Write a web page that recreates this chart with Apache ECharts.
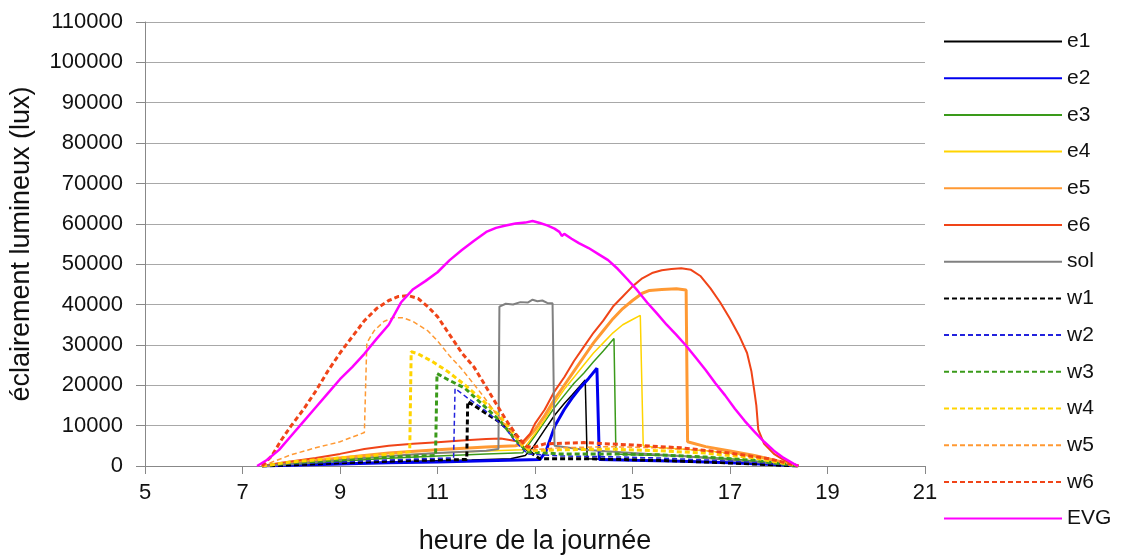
<!DOCTYPE html>
<html><head><meta charset="utf-8">
<script src="https://cdn.jsdelivr.net/npm/echarts@6/dist/echarts.min.js"></script>
<style>html,body{margin:0;padding:0;background:#fff}#c{width:1125px;height:560px}</style>
</head><body><div id="c"></div>
<script>
const xTicks = [5, 7, 9, 11, 13, 15, 17, 19, 21];
const seriesNames = ['e1','e2','e3','e4','e5','e6','sol','w1','w2','w3','w4','w5','w6','EVG'];

const e1 = [[7.4,0],[8,300],[9,700],[10,1000],[11,1300],[11.7,1500],[12.5,1800],[12.8,2600],[12.95,4500],[13.2,9000],[13.41,12700],[13.6,15500],[13.76,17600],[13.9,19500],[14.03,21300],[14.07,1800],[15,1500],[16,1200],[17,800],[18,300],[18.4,0]];
const e2 = [[7.4,0],[8,200],[9,500],[10,800],[11,1000],[12,1300],[13.1,1600],[13.22,3500],[13.41,10000],[13.6,14000],[13.76,16800],[13.9,19000],[14.1,21700],[14.27,24200],[14.32,1600],[15,1400],[16,1200],[17,800],[18,300],[18.4,0]];
const e3 = [[7.4,0],[8,400],[9,1200],[10,1900],[11,2500],[12,3000],[12.75,3300],[13.0,7500],[13.2,11000],[13.4,14500],[13.6,17500],[13.8,20500],[14.0,23000],[14.2,25800],[14.4,28500],[14.62,31600],[14.66,3000],[15,2800],[16,2500],[17,1800],[18,700],[18.4,0]];
const e4 = [[7.4,0],[8,500],[9,1500],[10,2500],[11,3200],[12,3700],[12.75,4000],[13.0,8000],[13.2,11500],[13.4,15500],[13.6,19000],[13.8,22000],[14.0,25000],[14.2,28000],[14.4,30500],[14.6,33000],[14.8,35000],[15.0,36300],[15.16,37300],[15.22,5000],[15.5,4600],[16,4200],[16.5,3800],[17,3200],[17.5,2300],[18,1000],[18.4,0]];
const e5 = [[7.4,0],[8,700],[9,2000],[10,3200],[11,4000],[12,4700],[12.6,5000],[12.75,5500],[13.0,9000],[13.2,12500],[13.4,16500],[13.6,20000],[13.8,23500],[14.0,27000],[14.2,30500],[14.4,33500],[14.6,36500],[14.8,39000],[15.0,41000],[15.2,42800],[15.35,43500],[15.6,43700],[15.9,43900],[16.1,43600],[16.13,6000],[16.5,4800],[17.0,3700],[17.5,2600],[18.0,1200],[18.4,0]];
const e6 = [[7.4,0],[7.8,800],[8.5,2000],[9.0,3000],[9.5,4200],[10.0,5000],[10.5,5500],[11.0,5900],[11.5,6300],[12.0,6700],[12.3,6800],[12.6,6200],[12.75,6000],[12.9,8000],[13.0,10500],[13.2,14000],[13.4,18500],[13.6,22000],[13.8,26000],[14.0,29500],[14.2,33000],[14.4,36000],[14.6,39500],[14.8,42000],[15.0,44500],[15.2,46500],[15.4,47800],[15.6,48500],[15.8,48800],[16.0,49000],[16.2,48600],[16.4,47000],[16.6,44000],[16.8,40500],[17.0,36500],[17.2,32000],[17.35,28000],[17.44,23400],[17.5,18500],[17.54,15000],[17.58,9000],[17.7,5500],[17.9,3000],[18.1,1500],[18.4,0]];
const sol = [[7.4,0],[8,500],[9,1500],[10,2500],[11,3200],[12,3800],[12.25,4200],[12.27,39500],[12.4,40200],[12.55,40000],[12.7,40600],[12.85,40500],[12.95,41200],[13.05,40800],[13.15,41000],[13.25,40400],[13.36,40300],[13.4,5000],[14,4000],[15,3200],[16,2500],[17,1500],[18,500],[18.4,0]];
const w1 = [[7.4,0],[8,300],[9,800],[10,1200],[11,1500],[11.6,1600],[11.62,16000],[11.9,13800],[12.26,11000],[12.59,7700],[12.8,4500],[12.95,3000],[13.1,1800],[14.0,1800],[14.5,1700],[15.5,1400],[16.5,1000],[17.5,500],[18.4,0]];
const w2 = [[7.4,0],[8,500],[9,1000],[10,1500],[11,1900],[11.33,2000],[11.36,19200],[11.6,17000],[11.92,14300],[12.2,11500],[12.39,9400],[12.6,6000],[12.85,3000],[13.5,2500],[14.5,2300],[15.5,2000],[16.5,1500],[17.5,900],[18.4,0]];
const w3 = [[7.4,0],[8,800],[9,1500],[10,2200],[10.96,2600],[10.99,22900],[11.2,21500],[11.57,19200],[11.9,15500],[12.3,11000],[12.6,6500],[12.85,3500],[13.5,3000],[14.5,3000],[15.5,2800],[16.5,2200],[17.5,1400],[18.4,0]];
const w4 = [[7.4,0],[8,1000],[9,2000],[10,2900],[10.43,3500],[10.46,28300],[10.6,27800],[10.89,25900],[11.2,23500],[11.57,20000],[11.9,16500],[12.26,12600],[12.5,9000],[12.75,5000],[12.9,3800],[13.5,4000],[14.5,4200],[15.5,3800],[16.5,3200],[17.5,2000],[18.4,0]];
const w5 = [[7.4,0],[8.0,2800],[8.5,4500],[9.0,6000],[9.5,8300],[9.55,30500],[9.7,33500],[9.9,35800],[10.1,36800],[10.3,36700],[10.5,35800],[10.8,33500],[11.0,31000],[11.24,27400],[11.5,24000],[11.92,17600],[12.2,13000],[12.5,8500],[12.75,5000],[12.9,4000],[13.5,4500],[14.5,4800],[15.5,4500],[16.5,3800],[17.5,2400],[18.4,0]];
const w6 = [[7.4,0],[7.6,2500],[7.8,6500],[8.0,10000],[8.25,14000],[8.5,18500],[8.75,23500],[9.0,28000],[9.25,32000],[9.5,36000],[9.75,39000],[10.0,41000],[10.2,42000],[10.4,42200],[10.6,41500],[10.8,39500],[11.0,37000],[11.25,32500],[11.5,28000],[11.75,24500],[12.0,19500],[12.2,15500],[12.4,11500],[12.6,8000],[12.8,5000],[12.95,4500],[13.2,5500],[14,5800],[15,5200],[16,4500],[17,3200],[17.8,1800],[18.4,0]];
const EVG = [[7.3,0],[7.5,1500],[7.75,4000],[8.0,7500],[8.25,11000],[8.5,14500],[8.75,18000],[9.0,21500],[9.25,24500],[9.5,27800],[9.75,31500],[10.0,35000],[10.25,40500],[10.5,43800],[10.75,45800],[11.0,48000],[11.25,51000],[11.5,53500],[11.75,55800],[12.0,58000],[12.2,59000],[12.4,59600],[12.6,60100],[12.8,60300],[12.95,60700],[13.1,60200],[13.25,59600],[13.4,58800],[13.5,58000],[13.55,57000],[13.6,57500],[13.75,56300],[13.9,55200],[14.1,54000],[14.3,52500],[14.5,51000],[14.7,48800],[14.9,46200],[15.1,43500],[15.3,40500],[15.5,37800],[15.7,35000],[15.9,32500],[16.1,29800],[16.3,26800],[16.5,23800],[16.7,20500],[16.9,17500],[17.1,14200],[17.3,11200],[17.5,8500],[17.7,6000],[17.9,3800],[18.1,2000],[18.3,600],[18.4,0]];

const dataMap = {e1,e2,e3,e4,e5,e6,sol,w1,w2,w3,w4,w5,w6,EVG};
const styles = {
  e1:{color:'#000000',width:1.5,type:'solid'},
  e2:{color:'#0000ee',width:3,type:'solid'},
  e3:{color:'#3a9a1a',width:1.5,type:'solid'},
  e4:{color:'#ffd400',width:1.5,type:'solid'},
  e5:{color:'#ff9933',width:3,type:'solid'},
  e6:{color:'#f04418',width:2,type:'solid'},
  sol:{color:'#808080',width:2,type:'solid'},
  w1:{color:'#000000',width:3,type:[5,3]},
  w2:{color:'#2222dd',width:1.5,type:[5,3]},
  w3:{color:'#3a9a1a',width:3,type:[5,3]},
  w4:{color:'#ffd400',width:3,type:[5,3]},
  w5:{color:'#ff9933',width:1.5,type:[5,3]},
  w6:{color:'#f04418',width:3,type:[5,3]},
  EVG:{color:'#ff00ff',width:2.5,type:'solid'}
};

const FONT = '"Liberation Sans", Arial, sans-serif';
const chart = echarts.init(document.getElementById('c'), null, {renderer:'canvas'});
chart.setOption({
  animation:false,
  backgroundColor:'#ffffff',
  grid:{left:142,right:200,top:22,bottom:92,containLabel:false},
  legend:{
    orient:'vertical', left:943, top:31, padding:0,
    itemWidth:118, itemHeight:14, itemGap:15.7,
    itemStyle:{opacity:0, borderWidth:0},
    textStyle:{fontSize:21,color:'#111',fontFamily:FONT},
    data:seriesNames
  },
  xAxis:{
    type:'value', min:5, max:21,
    name:'heure de la journée', nameLocation:'middle', nameGap:62,
    nameTextStyle:{fontSize:27,color:'#111',fontFamily:FONT},
    axisLine:{show:true,lineStyle:{color:'#888',width:1}},
    axisTick:{show:true,length:8,lineStyle:{color:'#888'},customValues:xTicks},
    axisLabel:{fontSize:22,color:'#111',fontFamily:FONT,margin:16,customValues:xTicks},
    splitLine:{show:false}
  },
  yAxis:{
    type:'value', min:0, max:110000, interval:10000,
    name:'éclairement lumineux (lux)', nameLocation:'middle', nameGap:110, nameRotate:90,
    nameTextStyle:{fontSize:27,color:'#111',fontFamily:FONT},
    axisLine:{show:true,lineStyle:{color:'#888',width:1}},
    axisTick:{show:true,length:9,lineStyle:{color:'#888'}},
    axisLabel:{fontSize:22,color:'#111',fontFamily:FONT,margin:22,formatter:v=>String(v)},
    splitLine:{show:true,lineStyle:{color:'#a8a8a8',width:1}}
  },
  series: seriesNames.map(n => ({
    name:n, type:'line', data:dataMap[n], symbol:'none', showSymbol:false,
    color:styles[n].color,
    lineStyle:{color:styles[n].color,width:styles[n].width,type:styles[n].type},
    itemStyle:{color:styles[n].color}
  }))
});
</script>
</body></html>
